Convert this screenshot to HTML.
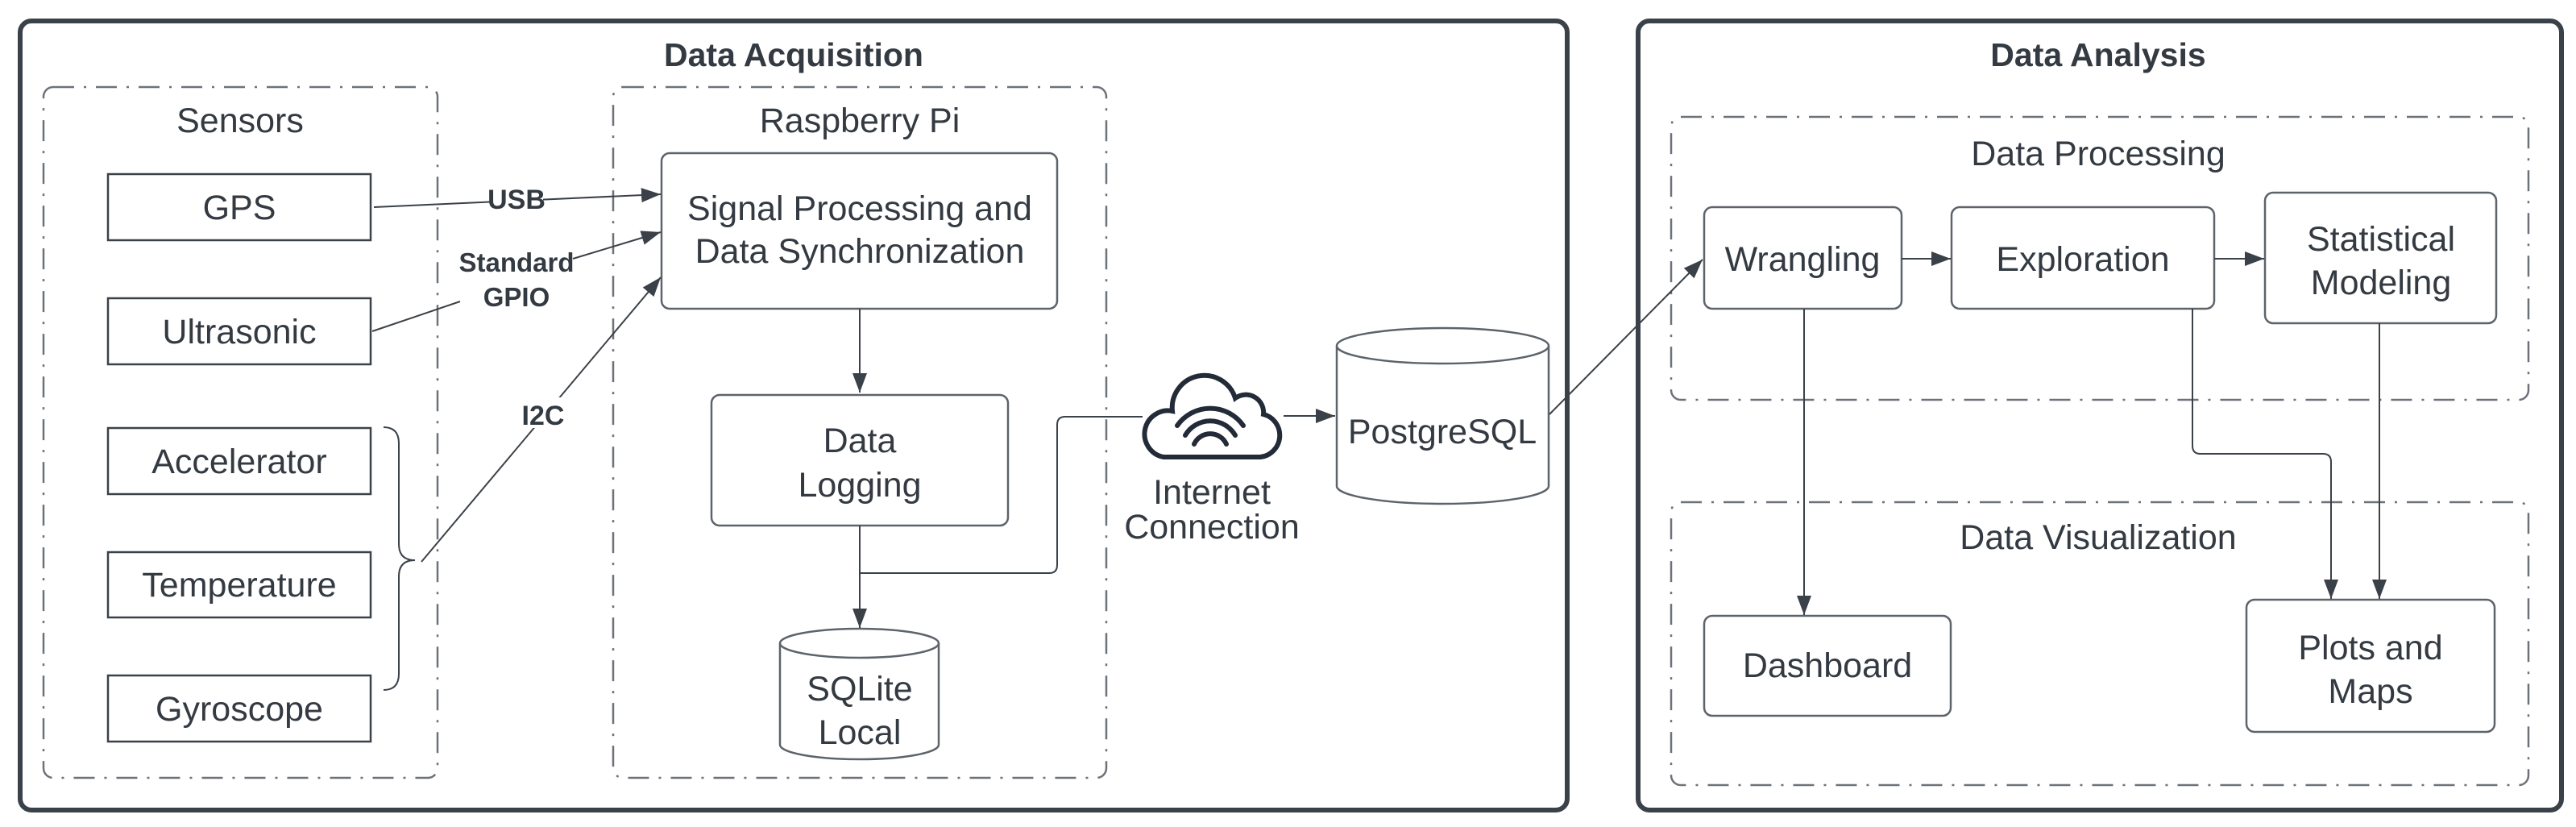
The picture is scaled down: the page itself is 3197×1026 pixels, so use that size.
<!DOCTYPE html>
<html><head><meta charset="utf-8"><style>
html,body{margin:0;padding:0;background:#fff}
svg{display:block}
text{font-family:"Liberation Sans",sans-serif;fill:#343a42}
.t{font-size:43px;text-anchor:middle}
.b{font-weight:bold;text-anchor:middle}
</style></head><body>
<svg width="3197" height="1026" viewBox="0 0 3197 1026" xmlns="http://www.w3.org/2000/svg">
<defs>
<marker id="m" viewBox="0 0 24 24" refX="24" refY="12" markerWidth="24" markerHeight="24" orient="auto" markerUnits="userSpaceOnUse">
<path d="M0,3 L24,12 L0,21 Z" fill="#3b4149"/>
</marker>
</defs>
<g fill="none" stroke="#3b4149">
<rect x="25" y="26" width="1920" height="979" rx="14" stroke-width="6"/>
<rect x="2033" y="26" width="1146" height="979" rx="14" stroke-width="6"/>
<g stroke="#6d727a" stroke-width="2.5" stroke-dasharray="26,12,3,12">
<rect x="54" y="108" width="489" height="857" rx="12"/>
<rect x="761" y="108" width="612" height="857" rx="12"/>
<rect x="2074" y="145" width="1064" height="351" rx="12"/>
<rect x="2074" y="623" width="1064" height="351" rx="12"/>
</g>
<g stroke-width="2.5">
<rect x="134" y="216" width="326" height="82"/>
<rect x="134" y="370" width="326" height="82"/>
<rect x="134" y="531" width="326" height="82"/>
<rect x="134" y="685" width="326" height="81"/>
<rect x="134" y="838" width="326" height="82"/>
</g>
<path d="M476,530 Q495,530 495,550 L495,675 Q495,695 515,695 Q495,695 495,715 L495,836 Q495,856 476,856" stroke-width="2"/>
<g stroke-width="2.5" stroke="#5d636b">
<rect x="821" y="190" width="491" height="193" rx="10"/>
<rect x="883" y="490" width="368" height="162" rx="10"/>
<rect x="2115" y="257" width="245" height="126" rx="10"/>
<rect x="2422" y="257" width="326" height="126" rx="10"/>
<rect x="2811" y="239" width="287" height="162" rx="10"/>
<rect x="2115" y="764" width="306" height="124" rx="10"/>
<rect x="2788" y="744" width="308" height="164" rx="10"/>
</g>
<g stroke-width="2.5" stroke="#5d636b">
<path d="M968,798 L968,924 A98.5,18 0 0 0 1165,924 L1165,798"/>
<ellipse cx="1066.5" cy="798" rx="98.5" ry="18"/>
<path d="M1659,429 L1659,603 A131.5,22 0 0 0 1922,603 L1922,429"/>
<ellipse cx="1790.5" cy="429" rx="131.5" ry="22"/>
</g>
<g stroke-width="2" stroke="#3b4149">
<line x1="464" y1="257" x2="820" y2="241" marker-end="url(#m)"/>
<line x1="462" y1="411" x2="571" y2="374"/>
<line x1="711" y1="321" x2="820" y2="288" marker-end="url(#m)"/>
<line x1="523" y1="697" x2="820" y2="344" marker-end="url(#m)"/>
<line x1="1067" y1="383" x2="1067" y2="487" marker-end="url(#m)"/>
<line x1="1067" y1="652" x2="1067" y2="779" marker-end="url(#m)"/>
<path d="M1067,711 L1302,711 Q1312,711 1312,701 L1312,527 Q1312,517 1322,517 L1418,517"/>
<line x1="1593" y1="516" x2="1657" y2="516" marker-end="url(#m)"/>
<line x1="1923" y1="514" x2="2113" y2="322" marker-end="url(#m)"/>
<line x1="2360" y1="321" x2="2421" y2="321" marker-end="url(#m)"/>
<line x1="2748" y1="321" x2="2810" y2="321" marker-end="url(#m)"/>
<line x1="2239" y1="383" x2="2239" y2="763" marker-end="url(#m)"/>
<path d="M2721,383 L2721,553 Q2721,563 2731,563 L2883,563 Q2893,563 2893,573 L2893,743" marker-end="url(#m)"/>
<line x1="2953" y1="401" x2="2953" y2="743" marker-end="url(#m)"/>
</g>
<path d="M1444,567 L1564,567 A27,27 0 0 0 1568,514 A22,22 0 0 0 1533,494 A40,40 0 0 0 1455,510 A29,29 0 0 0 1444,567 Z" stroke="#232b38" stroke-width="6" fill="#fff"/>
<g stroke="#232b38" stroke-width="6" stroke-linecap="round">
<path d="M1461,528 A50,50 0 0 1 1543,528"/>
<path d="M1471,540 A36,36 0 0 1 1533,540"/>
<path d="M1482,551 A22,22 0 0 1 1522,551"/>
</g>
</g>
<text class="b" x="985" y="82" font-size="41">Data Acquisition</text>
<text class="b" x="2604" y="82" font-size="41">Data Analysis</text>
<text class="t" x="298" y="164">Sensors</text>
<text class="t" x="1067" y="164">Raspberry Pi</text>
<text class="t" x="2604" y="205">Data Processing</text>
<text class="t" x="2604" y="681">Data Visualization</text>
<text class="t" x="297" y="272">GPS</text>
<text class="t" x="297" y="426">Ultrasonic</text>
<text class="t" x="297" y="587">Accelerator</text>
<text class="t" x="297" y="740">Temperature</text>
<text class="t" x="297" y="894">Gyroscope</text>
<text class="t" x="1067" y="273">Signal Processing and</text>
<text class="t" x="1067" y="326">Data Synchronization</text>
<text class="t" x="1067" y="561">Data</text>
<text class="t" x="1067" y="616">Logging</text>
<text class="t" x="1067" y="869">SQLite</text>
<text class="t" x="1067" y="923">Local</text>
<text class="t" x="1790" y="550">PostgreSQL</text>
<text class="t" x="2237" y="336">Wrangling</text>
<text class="t" x="2585" y="336">Exploration</text>
<text class="t" x="2955" y="311">Statistical</text>
<text class="t" x="2955" y="365">Modeling</text>
<text class="t" x="2268" y="840">Dashboard</text>
<text class="t" x="2942" y="818">Plots and</text>
<text class="t" x="2942" y="872">Maps</text>
<rect x="608" y="230" width="66" height="32" fill="#fff"/>
<text class="b" x="641" y="259" font-size="34">USB</text>
<text class="b" x="641" y="337" font-size="33">Standard</text>
<text class="b" x="641" y="380" font-size="33">GPIO</text>
<rect x="646" y="493" width="58" height="38" fill="#fff"/>
<text class="b" x="674" y="527" font-size="34">I2C</text>
<text class="t" x="1504" y="625" font-size="33">Internet</text>
<text class="t" x="1504" y="668" font-size="33">Connection</text>
</svg>
</body></html>
